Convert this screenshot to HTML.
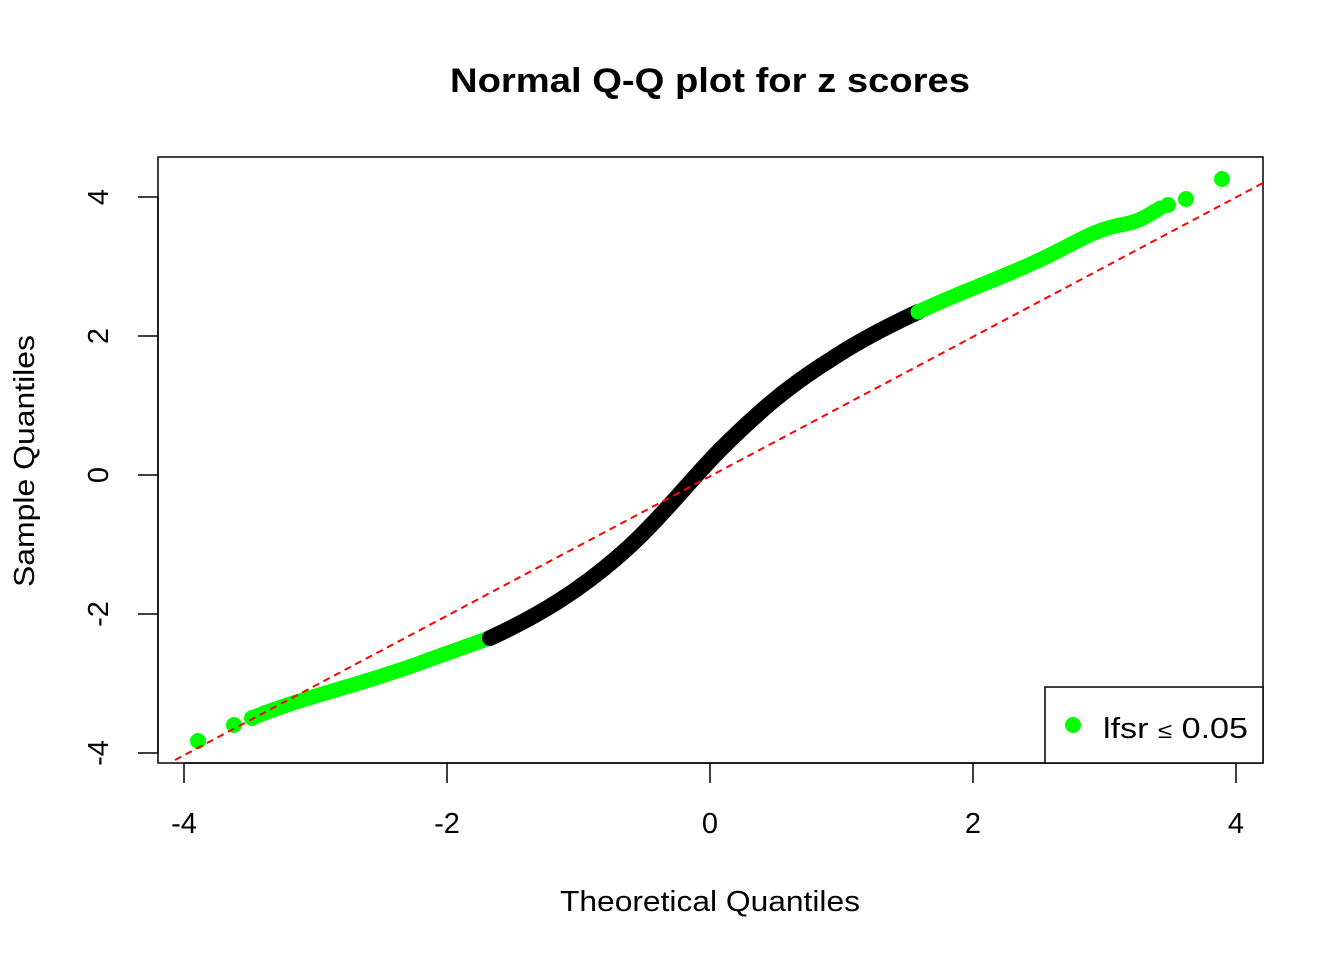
<!DOCTYPE html>
<html><head><meta charset="utf-8"><style>body{margin:0;background:#fff}</style></head><body>
<svg width="1344" height="960" xmlns="http://www.w3.org/2000/svg" font-family="Liberation Sans, Arial, sans-serif">
<rect width="1344" height="960" fill="#fff"/>
<text x="450" y="92" font-size="34" font-weight="bold" textLength="520" lengthAdjust="spacingAndGlyphs">Normal Q-Q plot for z scores</text>
<rect x="158" y="157" width="1105" height="606" fill="none" stroke="#000" stroke-width="1.5"/>
<g stroke="#000" stroke-width="1.5">
<line x1="184" y1="763" x2="1236" y2="763"/>
<line x1="184" y1="763" x2="184" y2="783"/><line x1="447" y1="763" x2="447" y2="783"/><line x1="710" y1="763" x2="710" y2="783"/><line x1="973" y1="763" x2="973" y2="783"/><line x1="1236" y1="763" x2="1236" y2="783"/>
<line x1="158" y1="197" x2="158" y2="753"/>
<line x1="138" y1="197" x2="158" y2="197"/><line x1="138" y1="336" x2="158" y2="336"/><line x1="138" y1="475" x2="158" y2="475"/><line x1="138" y1="614" x2="158" y2="614"/><line x1="138" y1="753" x2="158" y2="753"/>
</g>
<g font-size="29" text-anchor="middle">
<text x="184" y="833">-4</text><text x="447" y="833">-2</text><text x="710" y="833">0</text><text x="973" y="833">2</text><text x="1236" y="833">4</text>
<text transform="translate(108,197) rotate(-90)">4</text>
<text transform="translate(108,336) rotate(-90)">2</text>
<text transform="translate(108,475) rotate(-90)">0</text>
<text transform="translate(108,614) rotate(-90)">-2</text>
<text transform="translate(108,753) rotate(-90)">-4</text>
</g>
<g font-size="29">
<text x="560" y="911" textLength="300" lengthAdjust="spacingAndGlyphs">Theoretical Quantiles</text>
<text transform="translate(34,587) rotate(-90)" textLength="252" lengthAdjust="spacingAndGlyphs">Sample Quantiles</text>
</g>
<path d="M 252 718 C 300 698, 360 685, 420 663 C 450 652, 470 645, 490 638" fill="none" stroke="#00ff00" stroke-width="15" stroke-linecap="round"/>
<path d="M 490 638 C 540 615, 580 590, 620 555 C 660 520, 690 480, 720 450 C 760 410, 790 385, 830 360 C 860 340, 890 325, 918 312" fill="none" stroke="#000" stroke-width="16" stroke-linecap="round"/>
<path d="M 918 312 C 960 292, 1010 275, 1050 255 C 1080 240, 1095 230, 1120 225 C 1140 222, 1150 214, 1160 208" fill="none" stroke="#00ff00" stroke-width="15" stroke-linecap="round"/>
<g fill="#00ff00">
<circle cx="198" cy="741" r="8"/><circle cx="234" cy="725" r="8"/><circle cx="252" cy="718" r="8"/><circle cx="265" cy="712" r="7"/>
<circle cx="1168" cy="205" r="8"/><circle cx="1186" cy="199" r="8"/><circle cx="1222" cy="179" r="8"/><circle cx="1156" cy="211" r="7"/>
</g>
<line x1="175" y1="760" x2="1263" y2="183" stroke="#ff0000" stroke-width="2" stroke-dasharray="7,5"/>
<rect x="1045" y="687" width="218" height="76" fill="#fff" stroke="#000" stroke-width="1.5"/>
<circle cx="1073" cy="725" r="8" fill="#00ff00"/>
<text x="1103" y="738" font-size="29" textLength="145" lengthAdjust="spacingAndGlyphs">lfsr <tspan font-size="22">≤</tspan> 0.05</text>
</svg>
</body></html>
